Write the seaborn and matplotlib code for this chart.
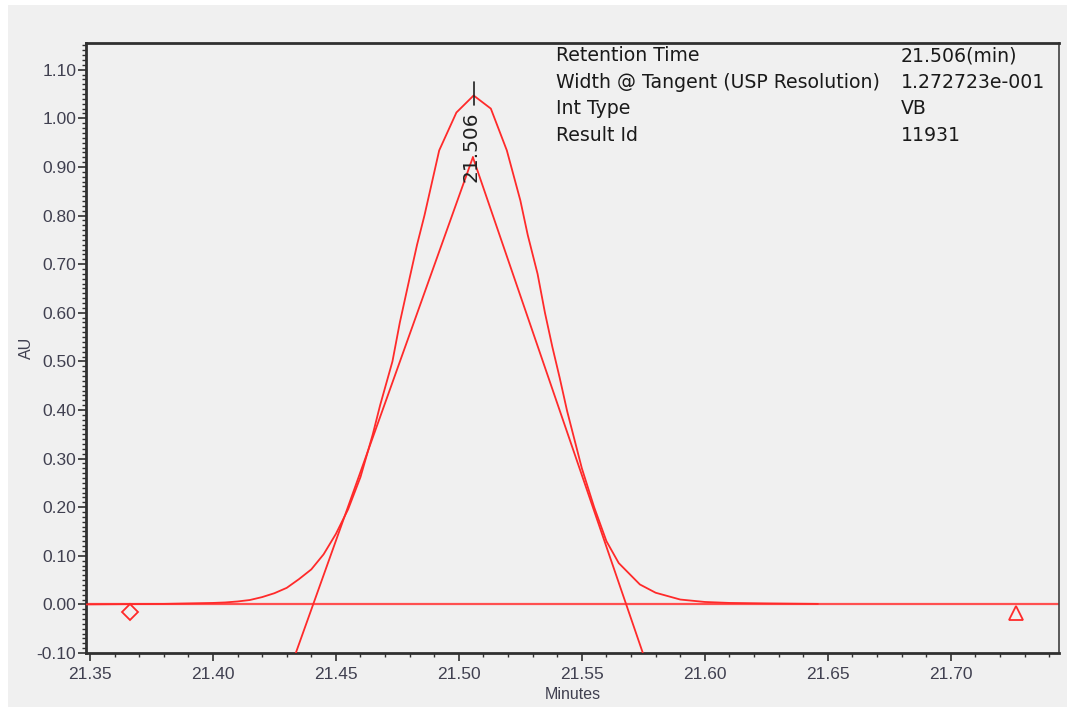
import numpy as np
import pandas as pd
import matplotlib
matplotlib.use("Agg")
import matplotlib.pyplot as plt
from matplotlib.patches import Rectangle
from matplotlib.ticker import MultipleLocator, FormatStrFormatter
import seaborn as sns


# DATA

times = [21.3484, 21.380, 21.390, 21.400, 21.405, 21.410, 21.415, 21.420,
         21.425, 21.430, 21.435, 21.440, 21.445, 21.450, 21.455, 21.460,
         21.465, 21.468, 21.473, 21.476, 21.480, 21.483, 21.486, 21.492,
         21.499, 21.506, 21.513, 21.5195, 21.525, 21.528, 21.532, 21.535,
         21.538, 21.541, 21.544, 21.550, 21.555, 21.560, 21.565, 21.5736,
         21.580, 21.590, 21.600, 21.610, 21.625, 21.646]
au = [0.000, 0.001, 0.002, 0.003, 0.004, 0.006, 0.009, 0.015,
      0.023, 0.034, 0.052, 0.072, 0.103, 0.145, 0.196, 0.262,
      0.350, 0.410, 0.500, 0.580, 0.672, 0.740, 0.800, 0.934,
      1.012, 1.047, 1.020, 0.934, 0.831, 0.760, 0.680, 0.600,
      0.530, 0.466, 0.398, 0.280, 0.200, 0.130, 0.085, 0.041,
      0.024, 0.010, 0.005, 0.003, 0.002, 0.001]

# tangent lines (USP width)
tan_left_x = [21.4337, 21.5057]
tan_left_y = [-0.10, 0.92]
tan_right_x = [21.5057, 21.5748]
tan_right_y = [0.92, -0.10]

# peak start / end markers
start_x, start_y = 21.3663, -0.016
end_x, end_y = 21.7264, -0.017

peak_rt = 21.506
peak_label = "21.506"

info_names = ["Retention Time", "Width @ Tangent (USP Resolution)", "Int Type", "Result Id"]
info_values = ["21.506(min)", "1.272723e-001", "VB", "11931"]


# STYLE

sns.set_style("ticks")
plt.rcParams['font.family'] = ['Liberation Sans Narrow', 'Liberation Sans', 'DejaVu Sans']

bg = "#f0f0f0"
red = "#ff2a2a"

fig = plt.figure(figsize=(10.67, 7.07), dpi=100)
fig.patch.set_facecolor("white")
fig.add_artist(Rectangle((8 / 1067, 0), 1 - 8 / 1067, 702 / 707,
                         transform=fig.transFigure, facecolor=bg,
                         edgecolor="none", zorder=0))

ax = fig.add_axes([86 / 1067, 54 / 707, 973 / 1067, 610 / 707])
ax.set_facecolor(bg)


# BASELINE AND TRACE

ax.axhline(0, color="#ff5050", lw=1.6, zorder=2)

df = pd.DataFrame({"t": times, "au": au})
sns.lineplot(data=df, x="t", y="au", ax=ax, color=red, lw=1.3,
             sort=False, estimator=None, zorder=3)

sns.lineplot(x=tan_left_x, y=tan_left_y, ax=ax, color=red, lw=1.3,
             sort=False, estimator=None, zorder=3)
sns.lineplot(x=tan_right_x, y=tan_right_y, ax=ax, color=red, lw=1.3,
             sort=False, estimator=None, zorder=3)

ax.plot([start_x], [start_y], marker="D", ms=8, mfc="none", mec=red,
        mew=1.3, ls="none", zorder=4)
ax.plot([end_x], [end_y], marker="^", ms=10, mfc="none", mec=red,
        mew=1.3, ls="none", zorder=4)


# PEAK LABEL

ax.plot([peak_rt, peak_rt], [1.027, 1.074], color="#202020", lw=1.2, zorder=5)
ax.text(peak_rt - 0.0012, 0.868, peak_label, rotation=90, ha="center",
        va="bottom", fontsize=14.5, color="#202020", zorder=5,
        family=['DejaVu Sans'])


# INFO TABLE

row_y = [0.979, 0.936, 0.892, 0.848]
for name, val, yy in zip(info_names, info_values, row_y):
    ax.text(0.483, yy, name, transform=ax.transAxes, va="center", ha="left",
            fontsize=13.6, color="#1a1a1a", family=['DejaVu Sans'])
    ax.text(0.8376, yy, val, transform=ax.transAxes, va="center", ha="left",
            fontsize=13.6, color="#1a1a1a", family=['DejaVu Sans'])


# AXES

ax.set_xlim(21.3484, 21.744)
ax.set_ylim(-0.10, 1.155)

ax.xaxis.set_major_locator(MultipleLocator(0.05))
ax.xaxis.set_minor_locator(MultipleLocator(0.01))
ax.yaxis.set_major_locator(MultipleLocator(0.10))
ax.yaxis.set_minor_locator(MultipleLocator(0.01))
ax.xaxis.set_major_formatter(FormatStrFormatter("%.2f"))
ax.yaxis.set_major_formatter(FormatStrFormatter("%.2f"))

ax.tick_params(axis="both", which="major", length=6, width=1.2,
               color="#303030", labelsize=12.5, labelcolor="#404050")
ax.tick_params(axis="both", which="minor", length=3, width=1.0, color="#303030")
ax.tick_params(axis="y", which="major", pad=1)
ax.tick_params(axis="x", which="major", pad=4)

for side in ["left", "bottom", "top"]:
    ax.spines[side].set_color("#303030")
    ax.spines[side].set_linewidth(2.0)
ax.spines["right"].set_color("#404040")
ax.spines["right"].set_linewidth(1.2)

ax.set_xlabel("Minutes", fontsize=11.5, color="#404050", labelpad=4)
ax.set_ylabel("AU", fontsize=11.5, color="#404050", labelpad=2)

plt.savefig("out.png", dpi=100, facecolor=fig.get_facecolor())
plt.close()
